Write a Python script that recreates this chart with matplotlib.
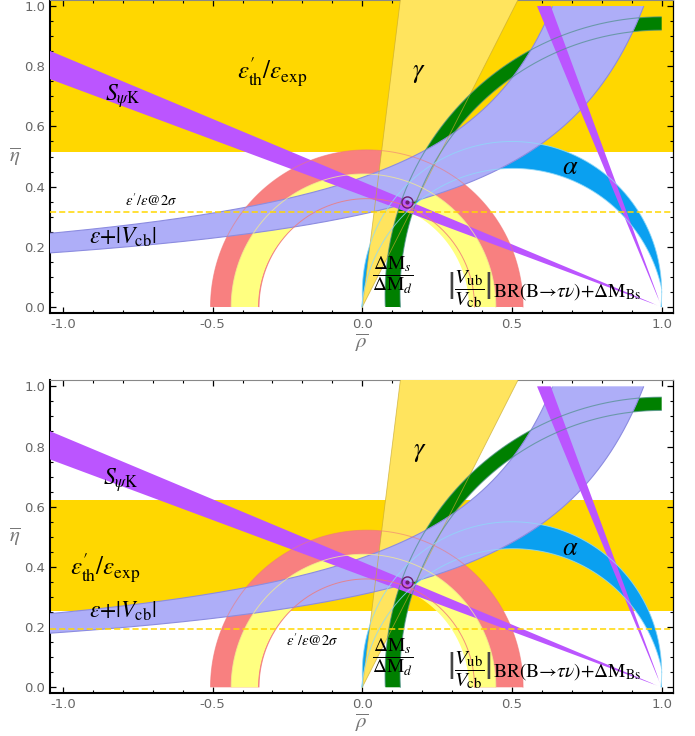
import numpy as np
import matplotlib
matplotlib.use('Agg')
import matplotlib.pyplot as plt
from matplotlib.ticker import MultipleLocator, FormatStrFormatter

plt.rcParams['mathtext.fontset'] = 'stix'
plt.rcParams['font.family'] = ['DejaVu Sans']

# ---- values ----
# eps'_th/eps_exp allowed eta range, top and bottom panel
eps_band = [(0.515, 1.10), (0.252, 0.623)]
# eps'/eps @ 2 sigma line
eps_dash = [0.316, 0.195]
# gamma wedge from the origin (degrees)
gamma_deg = [63.0, 82.9]
# S_psiK: eta = s * (1 - rho), and the mirrored steep solution
spsik_slope = [0.3705, 0.4165]
# eps_K + |Vcb| band edges: eta = c / (a - rho)**p
epsk_low = [0.392, 1.30, 0.916]
epsk_up = [0.414, 0.95, 0.762]
# Delta Ms / Delta Md circles: rho0, eta0, radius
dm_out = [1.0, 0.040, 0.924]
dm_in = [1.0, 0.046, 0.874]
# alpha circles: rho0, eta0, radius
alpha_up = [0.500, 0.050, 0.500]
alpha_lo = [0.5036, -0.0474, 0.508]
# rings around the origin: rho0, r_in, r_out
vub_ring = [0.004, 0.352, 0.442]
btau_ring = [0.015, 0.360, 0.522]
apex = [0.149, 0.349]

# label positions (rho, eta) per panel
pos_epsth = [(-0.30, 0.78), (-0.857, 0.394)]
pos_spsik = [(-0.80, 0.70), (-0.807, 0.69)]
pos_epsk = [(-0.80, 0.232), (-0.80, 0.255)]
pos_2sig = [(-0.707, 0.352), (-0.168, 0.156)]
pos_gamma = [(0.19, 0.78), (0.193, 0.785)]
pos_alpha = [(0.693, 0.466), (0.693, 0.464)]
pos_dm = [(0.10, 0.104), (0.10, 0.100)]
vub_eta = [0.058, 0.058]
vub_rho = [0.296, 0.358, 0.420, 0.438]   # bar, fraction, bar, text start

GOLD = '#FFD700'
GAMMA = '#FFE45E'
RED = '#F88080'
YEL = '#FFFF80'
CYAN = '#0AA0F0'
GREEN = '#008000'
BLUE = '#AEAEF8'
PURPLE = '#BB55FF'

rho, eta = np.meshgrid(np.linspace(-1.06, 1.06, 1500), np.linspace(-0.03, 1.03, 760))
box = np.minimum(np.minimum(eta, 1.0 - eta), 1.0 - rho)


def disk(p):
    return p[2] - np.hypot(rho - p[0], eta - p[1])


def ring(p):
    d = np.hypot(rho - p[0], eta)
    return np.minimum(np.minimum(d - p[1], p[2] - d), eta)


def fill(ax, F, color, z):
    ax.contourf(rho, eta, F, levels=[0, 1e4], colors=[color], zorder=z, antialiased=True)


def arc(ax, c0, c1, r, color, lw=0.7, alpha=0.7, z=9):
    t = np.linspace(0, 2 * np.pi, 900)
    x = c0 + r * np.cos(t)
    y = c1 + r * np.sin(t)
    m = (y >= 0) & (y <= 1.0) & (x <= 1.0)
    x[~m] = np.nan
    ax.plot(x, y, color=color, lw=lw, alpha=alpha, zorder=z)


# regions that are the same in both panels
g1, g2 = np.radians(gamma_deg)
theta = np.arctan2(eta, rho)
F_gamma = np.minimum(theta - g1, g2 - theta)

a_up, a_lo = disk(alpha_up), disk(alpha_lo)
F_alpha = np.minimum(np.maximum(np.minimum(a_up, -a_lo), np.minimum(-a_up, a_lo)), box)

F_green = np.minimum(np.minimum(disk(dm_out), -disk(dm_in)), box)

low = epsk_low[0] / (epsk_low[1] - rho) ** epsk_low[2]
up = epsk_up[0] / np.clip(epsk_up[1] - rho, 1e-4, None) ** epsk_up[2]
F_epsk = np.minimum(np.minimum(eta - low, up - eta), box)

s1, s2 = spsik_slope
F_spsik = np.minimum(np.minimum(eta - s1 * (1 - rho), s2 * (1 - rho) - eta), box)
F_steep = np.minimum(np.minimum(eta - (1 - rho) / s2, (1 - rho) / s1 - eta), box)

fig = plt.figure(figsize=(6.95, 7.36), dpi=100)
axes = [fig.add_axes([0.072, 0.5747, 0.896, 0.4253]),
        fig.add_axes([0.072, 0.0580, 0.896, 0.4253])]

for k, ax in enumerate(axes):
    ax.axhspan(eps_band[k][0], eps_band[k][1], color=GOLD, lw=0, zorder=1)
    fill(ax, ring(btau_ring), RED, 2)
    fill(ax, ring(vub_ring), YEL, 3)
    fill(ax, F_alpha, CYAN, 4)
    fill(ax, F_gamma, GAMMA, 5)
    fill(ax, F_green, GREEN, 6)
    fill(ax, F_epsk, BLUE, 7)
    fill(ax, F_spsik, PURPLE, 8)
    fill(ax, F_steep, PURPLE, 8)

    # thin boundary lines
    rr = np.linspace(-1.1, 0.999, 600)
    lo_line = epsk_low[0] / (epsk_low[1] - rr) ** epsk_low[2]
    up_line = epsk_up[0] / np.clip(epsk_up[1] - rr, 1e-4, None) ** epsk_up[2]
    ax.plot(rr, np.where(lo_line <= 1.0, lo_line, np.nan), color='#8C8CE0', lw=0.8, zorder=7.5)
    ax.plot(rr, np.where(up_line <= 1.0, up_line, np.nan), color='#8C8CE0', lw=0.8, zorder=7.5)
    for g in (g1, g2):
        ax.plot([0, 1.2 * np.cos(g)], [0, 1.2 * np.sin(g)], color='#C8AA30', lw=0.6, alpha=0.7, zorder=9)
    for c in (dm_out, dm_in):
        arc(ax, c[0], c[1], c[2], '#4E8F8A', lw=0.8, alpha=0.7)
    for c in (alpha_up, alpha_lo):
        arc(ax, c[0], c[1], c[2], '#8FD8F8', lw=0.7, alpha=0.8)
    arc(ax, btau_ring[0], 0, btau_ring[1], '#F07878', lw=0.7, alpha=0.8)
    arc(ax, btau_ring[0], 0, btau_ring[2], '#F07878', lw=0.7, alpha=0.6)
    arc(ax, vub_ring[0], 0, vub_ring[2], '#F2EA90', lw=0.7, alpha=0.8)

    ax.axhline(eps_dash[k], color=GOLD, lw=1.1, ls=(0, (4, 2)), zorder=10)

    ax.plot(apex[0], apex[1], 'o', ms=8, mfc='none', mec='#6B1F6B', mew=1.0, zorder=11)
    ax.plot(apex[0], apex[1], 'o', ms=2, color='#6B1F6B', zorder=11)

    # labels
    tk = dict(ha='center', va='center', zorder=12)
    ax.text(*pos_epsth[k], r"$\varepsilon^{\prime}_{\rm th}/\varepsilon_{\rm exp}$", fontsize=18, **tk)
    ax.text(*pos_spsik[k], r"$S_{\psi{\rm K}}$", fontsize=17, **tk)
    ax.text(*pos_epsk[k], r"$\varepsilon{+}|V_{\rm cb}|$", fontsize=17, **tk)
    ax.text(*pos_2sig[k], r"$\varepsilon'/\varepsilon$@$2\sigma$", fontsize=10.5,
            family='STIXGeneral', **tk)
    ax.text(*pos_gamma[k], r"$\gamma$", fontsize=19, **tk)
    ax.text(*pos_alpha[k], r"$\alpha$", fontsize=19, **tk)
    ax.text(*pos_dm[k], r"$\dfrac{\Delta{\rm M}_s}{\Delta{\rm M}_d}$", fontsize=14, **tk)
    ve = vub_eta[k]
    ax.text(vub_rho[0], ve, "|", fontsize=28, family='STIXGeneral', color='#444444', **tk)
    ax.text(vub_rho[1], ve, r"$\dfrac{V_{\rm ub}}{V_{\rm cb}}$", fontsize=15, **tk)
    ax.text(vub_rho[2], ve, "|", fontsize=28, family='STIXGeneral', color='#444444', **tk)
    ax.text(vub_rho[3], ve - 0.006, r"BR(B→$\tau\nu$)+$\Delta$M$_{\rm Bs}$", fontsize=14,
            family='STIXGeneral', ha='left', va='center', zorder=12)

    ax.set_xlim(-1.043, 1.037)
    ax.set_ylim(-0.02, 1.02)
    ax.xaxis.set_major_locator(MultipleLocator(0.5))
    ax.xaxis.set_minor_locator(MultipleLocator(0.1))
    ax.yaxis.set_major_locator(MultipleLocator(0.2))
    ax.yaxis.set_minor_locator(MultipleLocator(0.05))
    ax.xaxis.set_major_formatter(FormatStrFormatter('%.1f'))
    ax.yaxis.set_major_formatter(FormatStrFormatter('%.1f'))
    ax.tick_params(which='both', direction='in', top=True, right=True,
                   labelsize=9.5, labelcolor='#666666')
    ax.tick_params(which='major', length=4, width=0.9)
    ax.tick_params(which='minor', length=2.5, width=0.8)
    for side in ('left', 'bottom'):
        ax.spines[side].set_linewidth(1.5)
    ax.spines['top'].set_color('#888888')
    ax.spines['right'].set_linewidth(0.9)
    ax.set_xlabel(r'$\overline{\rho}$', fontsize=15, color='#777777')
    ax.set_ylabel(r'$\overline{\eta}$', fontsize=15, color='#777777', rotation=0)
    ax.xaxis.label.set_va('center')
    ax.yaxis.label.set_va('center')
    ax.xaxis.set_label_coords(0.5, -0.095)
    ax.yaxis.set_label_coords(-0.057, 0.5)

fig.savefig('out.png', dpi=100)
